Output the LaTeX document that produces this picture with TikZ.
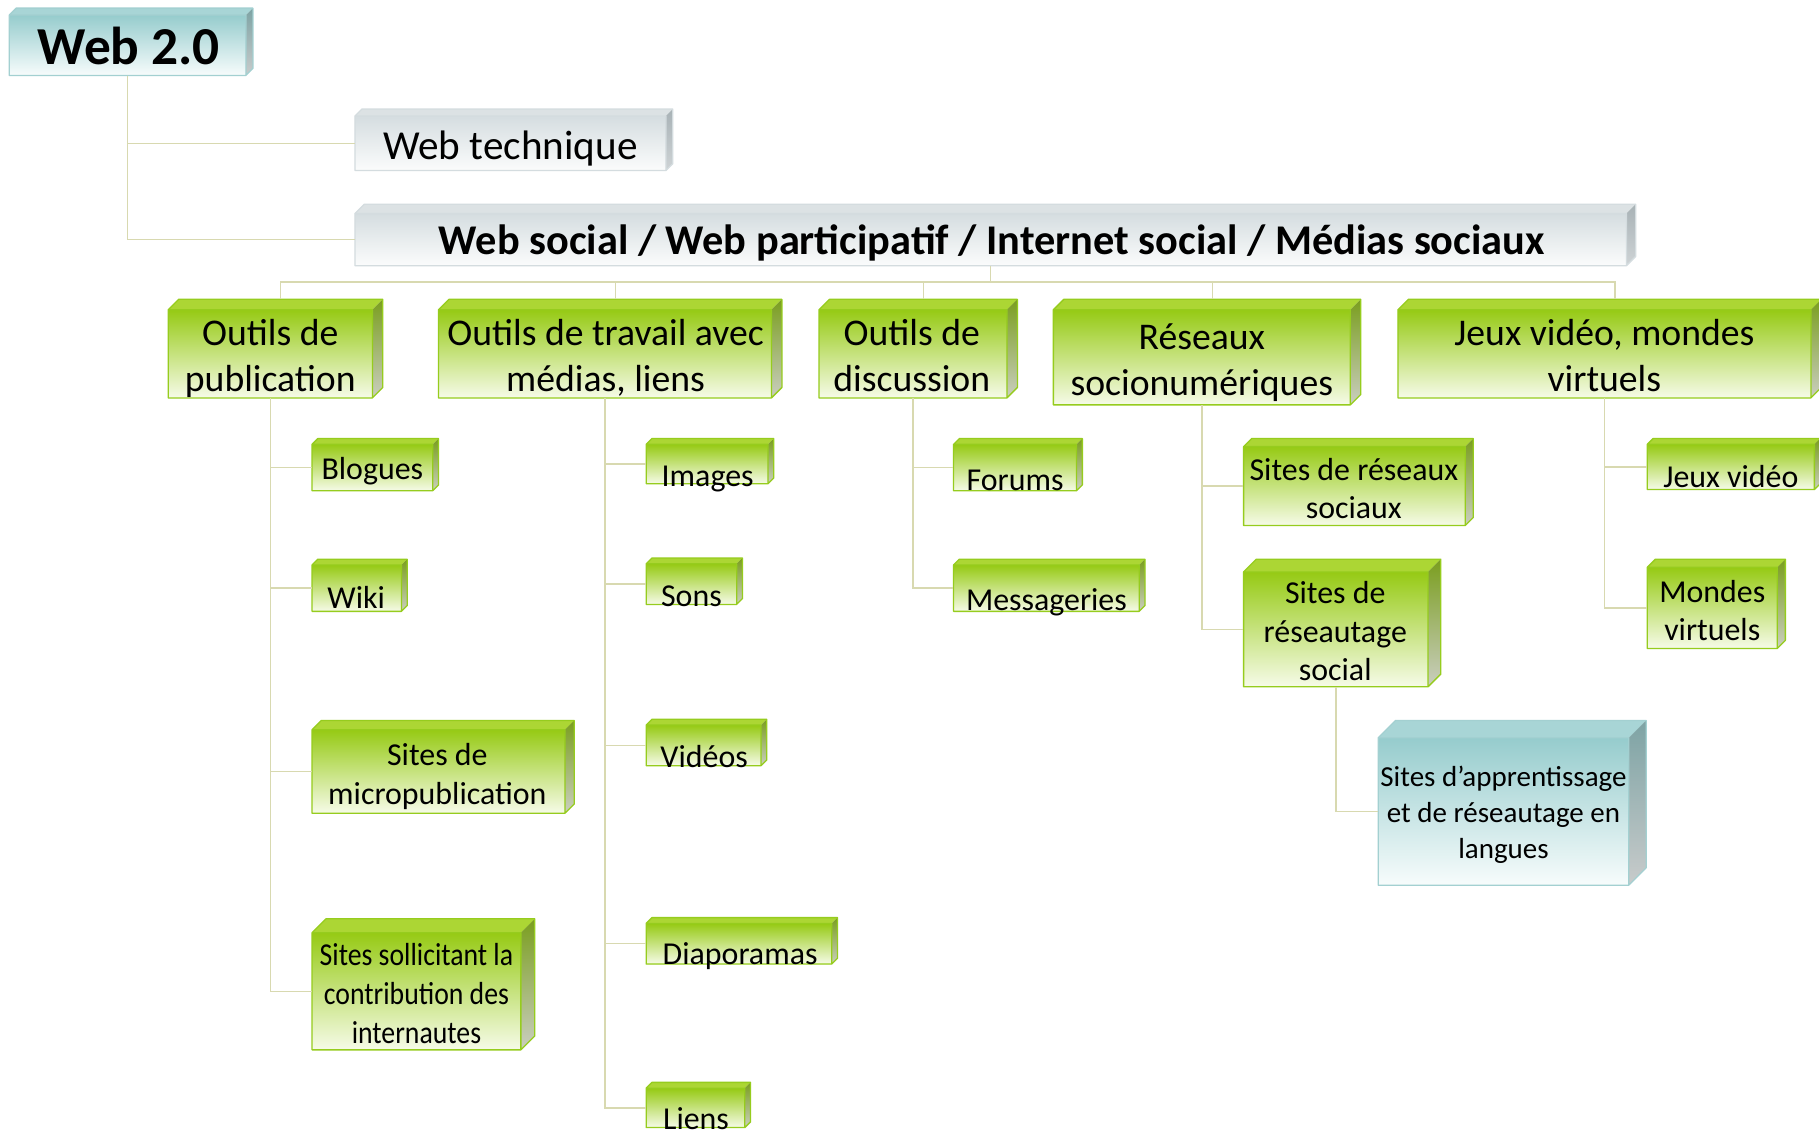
\documentclass[tikz,border=0pt]{standalone}
\usepackage{fontspec}
\setmainfont{Carlito}
\usetikzlibrary{fit,calc}
\definecolor{greenfront1}{RGB}{150,202,20}
\definecolor{greenfront2}{RGB}{246,251,232}
\definecolor{greentopc}{RGB}{172,214,52}
\definecolor{greenside1}{RGB}{122,158,30}
\definecolor{greenside2}{RGB}{202,206,192}
\definecolor{greenline}{RGB}{150,204,30}
\definecolor{bluefront1}{RGB}{150,204,205}
\definecolor{bluefront2}{RGB}{247,252,252}
\definecolor{bluetopc}{RGB}{168,213,214}
\definecolor{blueside1}{RGB}{125,163,164}
\definecolor{blueside2}{RGB}{200,203,203}
\definecolor{blueline}{RGB}{163,208,209}
\definecolor{grayfront1}{RGB}{213,221,224}
\definecolor{grayfront2}{RGB}{251,252,252}
\definecolor{graytopc}{RGB}{220,226,228}
\definecolor{grayside1}{RGB}{168,178,182}
\definecolor{grayside2}{RGB}{206,211,213}
\definecolor{grayline}{RGB}{212,220,223}
\definecolor{connc}{RGB}{216,217,176}
\newcommand\fTop{\fontsize{46}{55}\bfseries\selectfont}
\newcommand\fTech{\fontsize{35.5}{42.6}\selectfont}
\newcommand\fSoc{\fontsize{36.5}{44}\bfseries\selectfont}
\newcommand\fL{\fontsize{32.5}{39.5}\selectfont}
\newcommand\fC{\fontsize{27.5}{33}\selectfont}
\newcommand\fS{\fontsize{27.5}{33.5}\selectfont\addfontfeature{FakeStretch=0.87}}
\newcommand\fA{\fontsize{25}{31}\selectfont}
% #1 name, #2 colour set, #3 x1, #4 y1, #5 x2, #6 y2, #7 depth (front face corners)
\newcommand\cubebox[7]{%
  \shade[top color=#2front1, bottom color=#2front2] (#3,#4) rectangle (#5,#6);
  \fill[#2topc] (#3,#4) -- ++(#7,-#7) -- (#5+#7,#4-#7) -- (#5,#4) -- cycle;
  \shade[top color=#2side1, bottom color=#2side2] (#5,#4) -- (#5+#7,#4-#7) -- (#5+#7,#6-#7) -- (#5,#6) -- cycle;
  \draw[#2line, line width=1.1pt, line join=round] (#3,#6) -- (#3,#4) -- ++(#7,-#7) -- (#5+#7,#4-#7) -- (#5+#7,#6-#7) -- (#5,#6) -- cycle (#3,#4) -- (#5,#4) -- (#5,#6);
  \node[fit={(#3,#4) (#5,#6)}, inner sep=0pt] (#1) {};
  \coordinate (#1-top) at ($(#1.north)+(#7,-#7)$);
}
\begin{document}
\begin{tikzpicture}[x=1pt,y=-1pt,
  conn/.style={draw=connc, line width=1.3pt},
  txt/.style={align=center, inner sep=0pt, anchor=center}]
\useasboundingbox (0,0) rectangle (1568,974);
\clip (0,0) rectangle (1568,974);
\fill[white] (0,0) rectangle (1568,974);
% boxes
\cubebox{web20}{blue}{8}{13}{212}{65}{6}
\cubebox{webtech}{gray}{306}{100}{574}{147}{6}
\cubebox{websoc}{gray}{306}{184}{1402}{229}{8}
\cubebox{pub}{green}{145}{267}{321}{343}{9}
\cubebox{trav}{green}{378}{267}{665}{343}{9}
\cubebox{disc}{green}{706}{267}{868}{343}{9}
\cubebox{res}{green}{908}{267}{1164}{349}{9}
\cubebox{jeux}{green}{1205}{267}{1561}{343}{9}
\cubebox{blog}{green}{269}{383}{373}{423}{5}
\cubebox{wiki}{green}{269}{487}{346}{527}{5}
\cubebox{micro}{green}{269}{629}{487}{701}{8}
\cubebox{solli}{green}{269}{804}{449}{905}{12}
\cubebox{img}{green}{557}{383}{662}{417}{5}
\cubebox{sons}{green}{557}{486}{635}{521}{5}
\cubebox{vid}{green}{557}{625}{656}{660}{5}
\cubebox{diapo}{green}{557}{796}{717}{831}{5}
\cubebox{liens}{green}{557}{938}{642}{972}{5}
\cubebox{forums}{green}{822}{383}{928}{423}{5}
\cubebox{mess}{green}{822}{487}{982}{527}{5}
\cubebox{sres}{green}{1072}{385}{1263}{453}{7}
\cubebox{sreau}{green}{1072}{493}{1231}{592}{11}
\cubebox{appr}{blue}{1188}{636}{1404}{763}{15}
\cubebox{jv}{green}{1420}{383}{1564}{422}{5}
\cubebox{mv}{green}{1420}{489}{1532}{559}{7}
% connectors
\draw[conn] (web20.south) |- (webtech.west);
\draw[conn] (web20.south) |- (websoc.west);
\coordinate (bus) at ($(websoc.south)+(0,14)$);
\draw[conn] (websoc.south) -- (bus);
\foreach \c in {pub,trav,disc,res,jeux} \draw[conn] (bus) -| (\c-top);
\foreach \c in {blog,wiki,micro,solli} \draw[conn] (pub.south) |- (\c.west);
\foreach \c in {img,sons,vid,diapo,liens} \draw[conn] (trav.south) |- (\c.west);
\foreach \c in {forums,mess} \draw[conn] (disc.south) |- (\c.west);
\foreach \c in {sres,sreau} \draw[conn] (res.south) |- (\c.west);
\draw[conn] (sreau.south) |- (appr.west);
\foreach \c in {jv,mv} \draw[conn] (jeux.south) |- (\c.west);
% texts
\node[txt,font=\fTop] (web20-t) at (111,45) {\strut Web 2.0};
\node[txt,font=\fTech] (webtech-t) at (440,129) {\strut Web technique};
\node[txt,font=\fSoc] (websoc-t) at (855,211) {\strut Web social / Web participatif / Internet social / Médias sociaux};
\node[txt,font=\fL] (pub-t) at (233,310) {\strut Outils de\\\strut publication};
\node[txt,font=\fL] (trav-t) at (522,310) {\strut Outils de travail avec\\\strut médias, liens};
\node[txt,font=\fL] (disc-t) at (786,310) {\strut Outils de\\\strut discussion};
\node[txt,font=\fL] (res-t) at (1036,313) {\strut Réseaux\\\strut socionumériques};
\node[txt,font=\fL] (jeux-t) at (1383,310) {\strut Jeux vidéo, mondes\\\strut virtuels};
\node[txt,font=\fC] (blog-t) at (321,407) {\strut Blogues};
\node[txt,font=\fC] (wiki-t) at (307,518) {\strut Wiki};
\node[txt,font=\fC] (micro-t) at (377,670) {\strut Sites de\\\strut micropublication};
\node[txt,font=\fS] (solli-t) at (359,859) {\strut Sites sollicitant la\\\strut contribution des\\\strut internautes};
\node[txt,font=\fC] (img-t) at (610,413) {\strut Images};
\node[txt,font=\fC] (sons-t) at (596,516) {\strut Sons};
\node[txt,font=\fC] (vid-t) at (607,655) {\strut Vidéos};
\node[txt,font=\fC] (diapo-t) at (638,825) {\strut Diaporamas};
\node[txt,font=\fC] (liens-t) at (600,967) {\strut Liens};
\node[txt,font=\fC] (forums-t) at (875,416) {\strut Forums};
\node[txt,font=\fC] (mess-t) at (902,520) {\strut Messageries};
\node[txt,font=\fC] (sres-t) at (1167,424) {\strut Sites de réseaux\\\strut sociaux};
\node[txt,font=\fC] (sreau-t) at (1151,547) {\strut Sites de\\\strut réseautage\\\strut social};
\node[txt,font=\fA] (appr-t) at (1296,703) {\strut Sites d’apprentissage\\\strut et de réseautage en\\\strut langues};
\node[txt,font=\fC] (jv-t) at (1492,414) {\strut Jeux vidéo};
\node[txt,font=\fC] (mv-t) at (1476,529) {\strut Mondes\\\strut virtuels};
\end{tikzpicture}
\end{document}
